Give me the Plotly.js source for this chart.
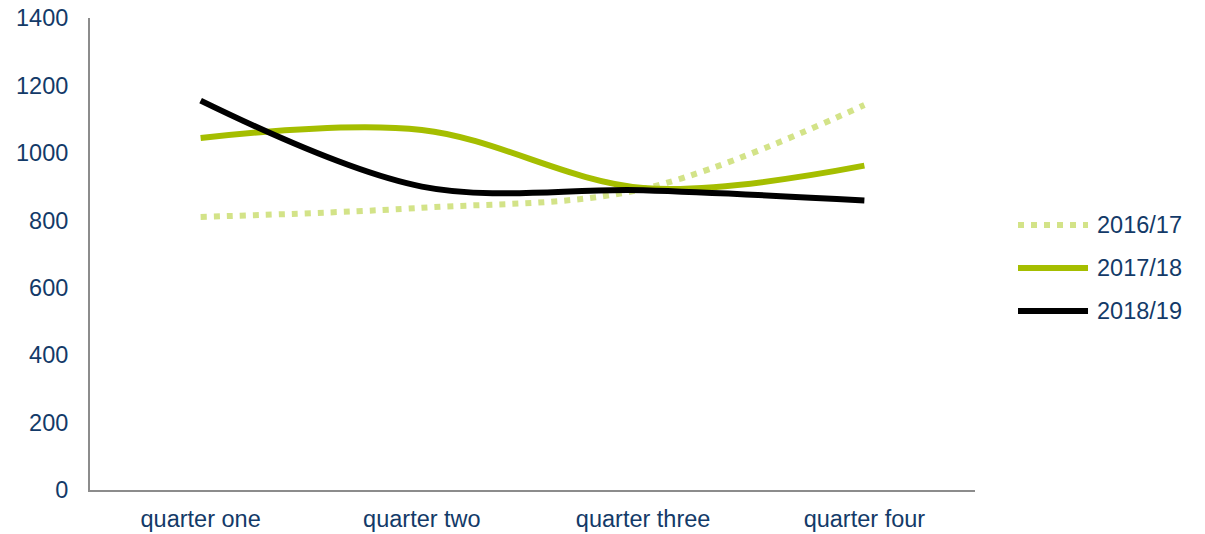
<!DOCTYPE html>
<html>
<head>
<meta charset="utf-8">
<script src="https://cdn.plot.ly/plotly-3.0.1.min.js"></script>
<style>
  html, body { margin: 0; padding: 0; background: #ffffff; }
  #chart { width: 1205px; height: 534px; }
</style>
</head>
<body>
<div id="chart"></div>
<script>
// Quarterly figures for three financial years
const quarters = ['quarter one', 'quarter two', 'quarter three', 'quarter four'];
const fy2016_17 = [810, 837, 893, 1142];
const fy2017_18 = [1044, 1068, 896, 962];
const fy2018_19 = [1155, 900, 889, 859];

const seriesNames = ['2016/17', '2017/18', '2018/19'];
const yTicks = [0, 200, 400, 600, 800, 1000, 1200, 1400];

const labelColor = '#133A68';
const axisColor = '#8C8C8C';
const fontSize = 23.5;

const lineStyles = [
  { color: '#D3E388', width: 6, dash: '6px,7px' },
  { color: '#A5BE00', width: 6, dash: 'solid' },
  { color: '#000000', width: 6, dash: 'solid' }
];
const seriesValues = [fy2016_17, fy2017_18, fy2018_19];

const traces = seriesValues.map((vals, i) => ({
  x: quarters, y: vals, name: seriesNames[i], type: 'scatter', mode: 'lines',
  showlegend: false,
  line: Object.assign({ shape: 'spline', smoothing: 1 }, lineStyles[i])
}));

// Key on the right: a long line sample followed by the year label
const keyX0 = 1.0486, keyX1 = 1.1277, keyTextX = 1.1356;
const keyY = [0.5614, 0.4703, 0.3792];

const shapes = seriesNames.map((n, i) => ({
  type: 'line', xref: 'paper', yref: 'paper',
  x0: keyX0, x1: keyX1, y0: keyY[i], y1: keyY[i],
  line: { color: lineStyles[i].color, width: lineStyles[i].width, dash: lineStyles[i].dash }
}));

const annotations = seriesNames.map((n, i) => ({
  xref: 'paper', yref: 'paper', x: keyTextX, y: keyY[i],
  xanchor: 'left', yanchor: 'middle', showarrow: false,
  text: n, font: { size: fontSize, color: labelColor }
}));

const layout = {
  width: 1205,
  height: 534,
  margin: { l: 90, r: 230, t: 18, b: 44 },
  paper_bgcolor: '#ffffff',
  plot_bgcolor: '#ffffff',
  font: { family: 'Liberation Sans, Arial, sans-serif', size: fontSize, color: labelColor },
  showlegend: false,
  shapes: shapes,
  annotations: annotations,
  xaxis: {
    type: 'category',
    range: [-0.5, 3.5],
    showline: true, linecolor: axisColor, linewidth: 2,
    showgrid: false, zeroline: false, ticks: '',
    ticklabelstandoff: 7,
    tickfont: { size: fontSize, color: labelColor }
  },
  yaxis: {
    range: [0, 1400],
    tickvals: yTicks,
    ticktext: yTicks.map(String),
    showline: true, linecolor: axisColor, linewidth: 2,
    showgrid: false, zeroline: false, ticks: '',
    ticklabelstandoff: 15,
    tickfont: { size: fontSize, color: labelColor }
  }
};

Plotly.newPlot('chart', traces, layout, { displayModeBar: false, staticPlot: true });
</script>
</body>
</html>
